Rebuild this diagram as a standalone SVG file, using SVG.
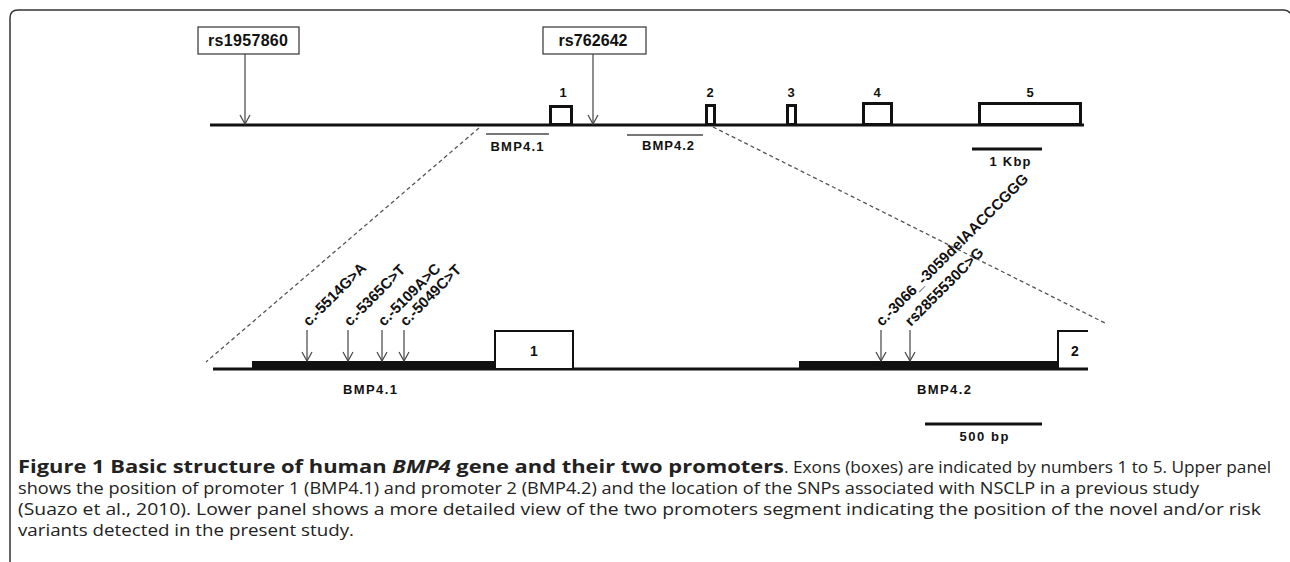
<svg xmlns="http://www.w3.org/2000/svg" width="1290" height="562" viewBox="0 0 1290 562">
<style>
.lbl{font-family:"Liberation Sans",Arial,sans-serif;font-weight:bold;fill:#111}
.exon{fill:#fff;stroke:#111;stroke-width:3}
.exonL{fill:#fff;stroke:#111;stroke-width:2}
.arrow{stroke:#444;stroke-width:1.2;fill:none}
.dash{stroke:#555;stroke-width:1.3;stroke-dasharray:4 3;fill:none}
.box{fill:#fff;stroke:#333;stroke-width:1.2}
.cap{font-family:"Open Sans","Noto Sans",sans-serif;font-size:17px;fill:#222}
</style>
<defs>
<marker id="v" viewBox="0 0 12 12" refX="10" refY="6" markerWidth="12" markerHeight="12" markerUnits="userSpaceOnUse" orient="auto">
<polyline points="1,1 10,6 1,11" fill="none" stroke="#444" stroke-width="1.2"/>
</marker>
</defs>
<rect width="1290" height="562" fill="#fff"/>
<path d="M10,562 L10,18 Q10,10 18,10 L1284,10 Q1288,10 1290,13" fill="none" stroke="#333" stroke-width="1.5"/>

<g id="upper-gene">
<line x1="210" y1="125" x2="1084" y2="125" stroke="#111" stroke-width="3"/>
</g>
<g id="exon1-upper"><rect class="exon" x="550.5" y="106.5" width="21" height="18"/><text class="lbl" x="563" y="97" font-size="13" text-anchor="middle">1</text></g>
<g id="exon2-upper"><rect class="exon" x="706.5" y="105.5" width="8" height="19"/><text class="lbl" x="710" y="97" font-size="13" text-anchor="middle">2</text></g>
<g id="exon3-upper"><rect class="exon" x="787.5" y="105.5" width="8" height="19"/><text class="lbl" x="791" y="97" font-size="13" text-anchor="middle">3</text></g>
<g id="exon4-upper"><rect class="exon" x="863.5" y="103.5" width="28" height="21"/><text class="lbl" x="877" y="97" font-size="13" text-anchor="middle">4</text></g>
<g id="exon5-upper"><rect class="exon" x="979.5" y="103.5" width="101" height="21"/><text class="lbl" x="1030" y="97" font-size="13" text-anchor="middle">5</text></g>
<g id="rs1957860"><rect class="box" x="198" y="27" width="101" height="27"/><text class="lbl" x="248" y="46" font-size="16" text-anchor="middle" textLength="80">rs1957860</text></g>
<g id="rs762642"><rect class="box" x="543" y="27" width="103" height="27"/><text class="lbl" x="593" y="46" font-size="16" text-anchor="middle" textLength="69">rs762642</text></g>
<g id="bmp41-upper"><line x1="486" y1="134" x2="549" y2="134" stroke="#777" stroke-width="2"/><text class="lbl" x="517" y="151" font-size="13" text-anchor="middle" textLength="53">BMP4.1</text></g>
<g id="bmp42-upper"><line x1="627" y1="135" x2="703" y2="135" stroke="#777" stroke-width="2"/><text class="lbl" x="668" y="150" font-size="13" text-anchor="middle" textLength="52">BMP4.2</text></g>
<g id="scale-1kbp"><line x1="972" y1="149" x2="1042" y2="149" stroke="#111" stroke-width="3"/><text class="lbl" x="1010" y="166" font-size="13" text-anchor="middle" textLength="41">1 Kbp</text></g>

<g id="lower-gene">
<line x1="213" y1="369" x2="1088" y2="369" stroke="#111" stroke-width="3"/>
</g>
<g id="bmp41-lower"><rect x="252" y="361" width="243" height="9" fill="#111"/><text class="lbl" x="370" y="394" font-size="13" text-anchor="middle" textLength="54">BMP4.1</text></g>
<g id="exon1-lower"><rect class="exonL" x="495" y="331" width="78" height="38"/><text class="lbl" x="534" y="356" font-size="14" text-anchor="middle">1</text></g>
<g id="bmp42-lower"><rect x="799" y="361" width="258" height="9" fill="#111"/><text class="lbl" x="944" y="394" font-size="13" text-anchor="middle" textLength="54">BMP4.2</text></g>
<g id="exon2-lower"><polyline points="1058,369 1058,331 1088,331" fill="none" stroke="#111" stroke-width="2"/><text class="lbl" x="1075" y="356" font-size="14" text-anchor="middle">2</text></g>
<g id="scale-500bp"><line x1="925" y1="424" x2="1042" y2="424" stroke="#111" stroke-width="3"/><text class="lbl" x="984" y="441" font-size="13" text-anchor="middle" textLength="49">500 bp</text></g>

<g id="snp-labels">
<text class="lbl" font-size="15" transform="translate(309,327) rotate(-45)">c.-5514G&gt;A</text>
<text class="lbl" font-size="15" transform="translate(350,327) rotate(-45)">c.-5365C&gt;T</text>
<text class="lbl" font-size="15" transform="translate(384,327) rotate(-45)">c.-5109A&gt;C</text>
<text class="lbl" font-size="15" transform="translate(406,327) rotate(-45)">c.-5049C&gt;T</text>
<text class="lbl" font-size="15" transform="translate(882,327) rotate(-45)">c.-3066_-3059delAACCCGGG</text>
<text class="lbl" font-size="15" transform="translate(911,327) rotate(-45)">rs2855530C&gt;G</text>
</g>

<g id="connectors">
<line class="arrow" x1="245" y1="54" x2="245" y2="124" marker-end="url(#v)"/>
<line class="arrow" x1="593" y1="54" x2="593" y2="124" marker-end="url(#v)"/>
<line class="arrow" x1="307" y1="330" x2="307" y2="361" marker-end="url(#v)"/>
<line class="arrow" x1="348" y1="330" x2="348" y2="361" marker-end="url(#v)"/>
<line class="arrow" x1="382" y1="330" x2="382" y2="361" marker-end="url(#v)"/>
<line class="arrow" x1="404" y1="330" x2="404" y2="361" marker-end="url(#v)"/>
<line class="arrow" x1="881" y1="330" x2="881" y2="361" marker-end="url(#v)"/>
<line class="arrow" x1="910" y1="330" x2="910" y2="361" marker-end="url(#v)"/>
<line class="dash" x1="479" y1="128" x2="206" y2="362"/>
<line class="dash" x1="713" y1="127" x2="1105" y2="323"/>
</g>

<g id="caption">
<text class="cap" x="18" y="473" font-weight="bold" textLength="766" lengthAdjust="spacingAndGlyphs">Figure 1 Basic structure of human <tspan font-style="italic">BMP4</tspan> gene and their two promoters</text>
<text class="cap" x="784" y="473" textLength="487" lengthAdjust="spacingAndGlyphs">. Exons (boxes) are indicated by numbers 1 to 5. Upper panel</text>
<text class="cap" x="18" y="494" textLength="1181" lengthAdjust="spacingAndGlyphs">shows the position of promoter 1 (BMP4.1) and promoter 2 (BMP4.2) and the location of the SNPs associated with NSCLP in a previous study</text>
<text class="cap" x="18" y="515" textLength="1243" lengthAdjust="spacingAndGlyphs">(Suazo et al., 2010). Lower panel shows a more detailed view of the two promoters segment indicating the position of the novel and/or risk</text>
<text class="cap" x="18" y="536" textLength="336" lengthAdjust="spacingAndGlyphs">variants detected in the present study.</text>
</g>
</svg>
